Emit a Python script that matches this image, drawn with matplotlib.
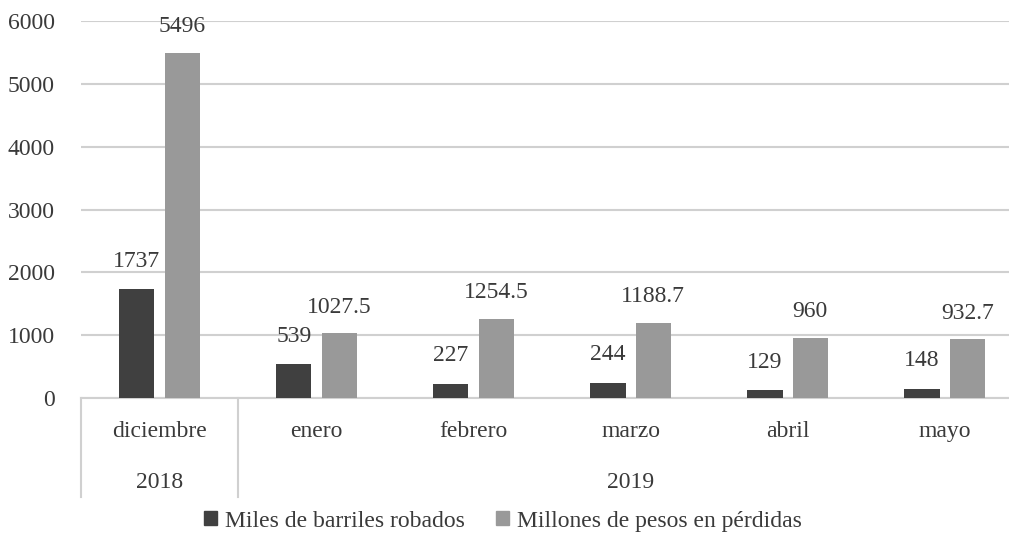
import matplotlib.pyplot as plt
import numpy as np
from matplotlib.patches import Patch

plt.rcParams['font.family'] = ['Liberation Serif', 'DejaVu Serif']

meses = ['diciembre', 'enero', 'febrero', 'marzo', 'abril', 'mayo']
anios = ['2018', '2019']
# cuantos meses pertenecen a cada año
meses_por_anio = [1, 5]
barriles = [1737, 539, 227, 244, 129, 148]
perdidas = [5496, 1027.5, 1254.5, 1188.7, 960, 932.7]
etiquetas_perdidas = ['5496', '1027.5', '1254.5', '1188.7', '960', '932.7']

color_oscuro = '#404040'
color_claro = '#999999'
color_texto = '#3a3a3a'
color_rejilla = '#d0d0d0'
fs = 17

fig = plt.figure(figsize=(10.09, 5.47), dpi=100)
ax = fig.add_axes([0.0803, 0.2724, 0.9336, 0.6892])

x = np.arange(len(meses))
ancho = 0.225
sep = 0.032
ax.bar(x - ancho / 2 - sep, barriles, ancho, color=color_oscuro, zorder=3)
ax.bar(x + ancho / 2 + sep, perdidas, ancho, color=color_claro, zorder=3)

# etiquetas de datos
for i in range(len(meses)):
    ax.annotate(str(barriles[i]), (x[i] - ancho / 2 - sep, barriles[i]),
                xytext=(0, 20), textcoords='offset points', ha='center', va='center',
                fontsize=fs, color=color_texto)
    ax.annotate(etiquetas_perdidas[i], (x[i] + ancho / 2 + sep, perdidas[i]),
                xytext=(0, 19), textcoords='offset points', ha='center', va='center',
                fontsize=fs, color=color_texto)

ax.set_xlim(-0.5, len(meses) - 0.5)
ax.set_ylim(0, 6000)
ax.set_yticks(range(0, 6001, 1000))
ax.tick_params(axis='y', length=0, pad=19, labelsize=fs, labelcolor=color_texto)
ax.set_xticks([])
ax.yaxis.grid(True, color=color_rejilla, linewidth=1.5, zorder=0)
ax.set_axisbelow(True)
for s in ['left', 'right', 'top']:
    ax.spines[s].set_visible(False)
ax.spines['bottom'].set_color(color_rejilla)
ax.spines['bottom'].set_linewidth(1.5)

# eje de categorías en dos niveles
trans = ax.get_xaxis_transform()
for i, m in enumerate(meses):
    ax.text(x[i], -0.09, m, transform=trans, ha='center', va='center',
            fontsize=fs, color=color_texto)
inicio = -0.5
ax.plot([inicio, inicio], [0, -0.263], transform=trans, color=color_rejilla,
        linewidth=1.5, clip_on=False)
for a, n in zip(anios, meses_por_anio):
    fin = inicio + n
    ax.text((inicio + fin) / 2, -0.223, a, transform=trans, ha='center', va='center',
            fontsize=fs, color=color_texto)
    ax.plot([fin, fin], [0, -0.263], transform=trans, color=color_rejilla,
            linewidth=1.5, clip_on=False)
    inicio = fin

handles = [Patch(color=color_oscuro), Patch(color=color_claro)]
fig.legend(handles, ['Miles de barriles robados', 'Millones de pesos en pérdidas'],
           loc='center', bbox_to_anchor=(0.4985, 0.0475), ncol=2, frameon=False,
           fontsize=fs, labelcolor=color_texto, handlelength=0.55, handleheight=0.55,
           handletextpad=0.35, columnspacing=1.3)

fig.savefig('out.png', dpi=100)
